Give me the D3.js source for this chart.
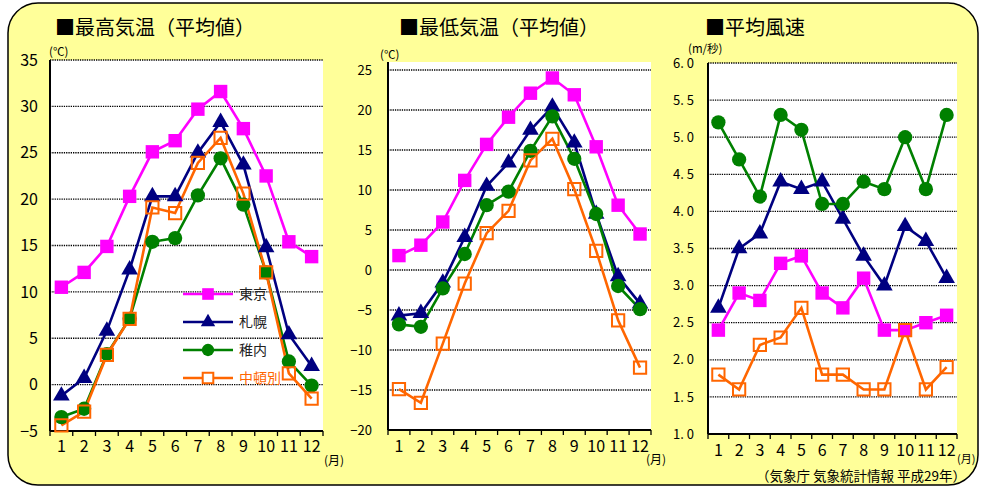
<!DOCTYPE html>
<html>
<head>
<meta charset="utf-8">
<script src="https://cdn.jsdelivr.net/npm/d3@7"></script>
<style>
  body { margin: 0; background: #fff; }
  svg { display: block; font-family: "Noto Sans CJK JP", sans-serif; }
</style>
</head>
<body>
<svg id="chart" width="983" height="486"></svg>
<script>
// months on the x axis
const months = [1, 2, 3, 4, 5, 6, 7, 8, 9, 10, 11, 12];
const stations = ['東京', '札幌', '稚内', '中頓別'];

// 最高気温 (℃)
const maxTokyo    = [10.5, 12.1, 14.9, 20.3, 25.1, 26.3, 29.7, 31.6, 27.6, 22.5, 15.4, 13.8];
const maxSapporo  = [-1.2, 0.7, 5.8, 12.4, 20.3, 20.3, 25.0, 28.3, 23.7, 14.8, 5.4, 2.0];
const maxWakkanai = [-3.5, -2.6, 3.3, 7.1, 15.4, 15.8, 20.4, 24.4, 19.4, 12.1, 2.5, -0.1];
const maxNakatonbetsu = [-4.4, -2.9, 3.2, 7.1, 19.1, 18.5, 23.9, 26.6, 20.6, 12.1, 1.2, -1.5];

// 最低気温 (℃)
const minTokyo    = [1.8, 3.1, 6.0, 11.2, 15.7, 19.1, 22.1, 24.0, 21.9, 15.4, 8.1, 4.5];
const minSapporo  = [-5.7, -5.4, -1.6, 4.1, 10.5, 13.4, 17.5, 20.4, 15.9, 7.0, -0.8, -4.2];
const minWakkanai = [-6.8, -7.1, -2.3, 2.0, 8.1, 9.8, 14.9, 19.2, 13.9, 7.0, -2.0, -4.9];
const minNakatonbetsu = [-14.9, -16.6, -9.2, -1.7, 4.6, 7.4, 13.7, 16.4, 10.1, 2.4, -6.3, -12.2];

// 平均風速 (m/秒)
const windTokyo    = [2.4, 2.9, 2.8, 3.3, 3.4, 2.9, 2.7, 3.1, 2.4, 2.4, 2.5, 2.6];
const windSapporo  = [2.7, 3.5, 3.7, 4.4, 4.3, 4.4, 3.9, 3.4, 3.0, 3.8, 3.6, 3.1];
const windWakkanai = [5.2, 4.7, 4.2, 5.3, 5.1, 4.1, 4.1, 4.4, 4.3, 5.0, 4.3, 5.3];
const windNakatonbetsu = [1.8, 1.6, 2.2, 2.3, 2.7, 1.8, 1.8, 1.6, 1.6, 2.4, 1.6, 1.9];

// y axis ticks
const maxTicks  = [-5, 0, 5, 10, 15, 20, 25, 30, 35];
const minTicks  = [-20, -15, -10, -5, 0, 5, 10, 15, 20, 25];
const windTicks = [1.0, 1.5, 2.0, 2.5, 3.0, 3.5, 4.0, 4.5, 5.0, 5.5, 6.0];

const styles = {
  '東京':   {color: '#ff00ff', symbol: d3.symbolSquare, size: 180, fill: true},
  '札幌':   {color: '#000080', symbol: d3.symbolTriangle, size: 120, fill: true},
  '稚内':   {color: '#008000', symbol: d3.symbolCircle, size: 160, fill: true},
  '中頓別': {color: '#ff6600', symbol: d3.symbolSquare, size: 150, fill: false}
};

const svg = d3.select('#chart');

// yellow rounded background
svg.append('rect')
  .attr('x', 8).attr('y', 3)
  .attr('width', 970).attr('height', 482)
  .attr('rx', 30).attr('ry', 30)
  .attr('fill', '#ffff99')
  .attr('stroke', '#000')
  .attr('stroke-width', 1.5);

function drawPanel(cfg) {
  const g = svg.append('g');
  const x = d3.scaleBand().domain(months).range([cfg.left, cfg.right]);
  const y = d3.scaleLinear().domain(cfg.domain).range([cfg.bottom, cfg.top]);

  // title
  g.append('text')
    .attr('x', cfg.titleX).attr('y', 35)
    .attr('font-size', 20)
    .attr('font-weight', 400)
    .attr('fill', '#000')
    .text(cfg.title);

  // unit
  g.append('text')
    .attr('x', cfg.unitX).attr('y', cfg.unitY)
    .attr('font-size', 11.5)
    .attr('fill', '#000')
    .text(cfg.unit);

  // white plot area
  g.append('rect')
    .attr('x', cfg.left).attr('y', cfg.whiteTop)
    .attr('width', cfg.right - cfg.left)
    .attr('height', cfg.bottom - cfg.whiteTop)
    .attr('fill', '#fff');

  // dotted grid
  g.selectAll('.grid')
    .data(cfg.ticks.filter(t => t !== cfg.domain[0]))
    .join('line')
    .attr('x1', cfg.left).attr('x2', cfg.right)
    .attr('y1', d => y(d)).attr('y2', d => y(d))
    .attr('stroke', '#000')
    .attr('stroke-width', 1.3)
    .attr('stroke-dasharray', '1.3,1');

  // y axis
  const yAxis = g.append('g')
    .attr('transform', `translate(${cfg.left},0)`)
    .call(d3.axisLeft(y).tickValues(cfg.ticks).tickSize(0).tickPadding(cfg.tickPad).tickFormat(cfg.fmt));
  yAxis.select('.domain').remove();
  yAxis.selectAll('text')
    .attr('font-size', cfg.yFont)
    .attr('font-family', '"Noto Sans CJK JP", sans-serif')
    .attr('fill', '#000');
  g.append('line')
    .attr('x1', cfg.left).attr('x2', cfg.left)
    .attr('y1', cfg.whiteTop).attr('y2', cfg.bottom)
    .attr('stroke', '#000').attr('stroke-width', 2);

  // x axis
  const xAxis = g.append('g')
    .attr('transform', `translate(0,${cfg.bottom})`)
    .call(d3.axisBottom(x).tickSize(0).tickPadding(cfg.xPad));
  xAxis.select('.domain').remove();
  xAxis.selectAll('text')
    .attr('font-size', 16)
    .attr('font-family', '"Noto Sans CJK JP", sans-serif')
    .attr('fill', '#000');
  g.append('line')
    .attr('x1', cfg.left).attr('x2', cfg.right)
    .attr('y1', cfg.bottom).attr('y2', cfg.bottom)
    .attr('stroke', '#000').attr('stroke-width', 2);
  g.selectAll('.xtick')
    .data(months.concat([13]))
    .join('line')
    .attr('x1', d => d === 13 ? cfg.right : x(d))
    .attr('x2', d => d === 13 ? cfg.right : x(d))
    .attr('y1', cfg.bottom).attr('y2', cfg.bottom + 5)
    .attr('stroke', '#000').attr('stroke-width', 1.3);

  g.append('text')
    .attr('x', cfg.monthX).attr('y', cfg.monthY)
    .attr('font-size', cfg.monthFont || 12)
    .attr('fill', '#000')
    .text('(月)');

  // series
  const line = d3.line()
    .x((d, i) => x(months[i]) + x.bandwidth() / 2)
    .y(d => y(d));

  cfg.series.forEach((vals, si) => {
    const st = styles[stations[si]];
    g.append('path')
      .datum(vals)
      .attr('d', line)
      .attr('fill', 'none')
      .attr('stroke', st.color)
      .attr('stroke-width', 2.6);
  });
  cfg.series.forEach((vals, si) => {
    const st = styles[stations[si]];
    g.selectAll(null)
      .data(vals)
      .join('path')
      .attr('transform', (d, i) => `translate(${x(months[i]) + x.bandwidth() / 2},${y(d)})`)
      .attr('d', d3.symbol().type(st.symbol).size(st.size))
      .attr('fill', st.fill ? st.color : 'none')
      .attr('stroke', st.color)
      .attr('stroke-width', st.fill ? 0 : 2);
  });
  return g;
}

const p1 = drawPanel({
  title: '■最高気温（平均値）', titleX: 55,
  unit: '(℃)', unitX: 49, unitY: 56,
  left: 50, right: 323, top: 60, bottom: 431, whiteTop: 60,
  domain: [-5, 35], ticks: maxTicks, fmt: d3.format('d'),
  tickPad: 12, yFont: 16, xPad: 10,
  monthX: 324, monthY: 465,
  series: [maxTokyo, maxSapporo, maxWakkanai, maxNakatonbetsu]
});

drawPanel({
  title: '■最低気温（平均値）', titleX: 399,
  unit: '(℃)', unitX: 380, unitY: 59,
  left: 388, right: 651, top: 70, bottom: 430, whiteTop: 62,
  domain: [-20, 25], ticks: minTicks, fmt: d3.format('d'),
  tickPad: 16, yFont: 13, xPad: 11,
  monthX: 646, monthY: 464,
  series: [minTokyo, minSapporo, minWakkanai, minNakatonbetsu]
});

drawPanel({
  title: '■平均風速', titleX: 705,
  unit: '(m/秒)', unitX: 688, unitY: 53,
  left: 708, right: 957, top: 63, bottom: 434, whiteTop: 63,
  domain: [1, 6], ticks: windTicks, fmt: d => d.toFixed(1).replace('.', '. '),
  tickPad: 14, yFont: 13, xPad: 11,
  monthX: 957, monthY: 463, monthFont: 11,
  series: [windTokyo, windSapporo, windWakkanai, windNakatonbetsu]
});

// legend in the first panel
const legend = p1.append('g');
stations.forEach((name, i) => {
  const st = styles[name];
  const ly = 294 + i * 28;
  legend.append('line')
    .attr('x1', 183).attr('x2', 233)
    .attr('y1', ly).attr('y2', ly)
    .attr('stroke', st.color).attr('stroke-width', 2.6);
  legend.append('path')
    .attr('transform', `translate(208,${ly})`)
    .attr('d', d3.symbol().type(st.symbol).size(st.size * 0.75))
    .attr('fill', st.fill ? st.color : '#fff')
    .attr('stroke', st.color)
    .attr('stroke-width', st.fill ? 0 : 2);
  legend.append('text')
    .attr('x', 239).attr('y', ly + 5)
    .attr('font-size', 14)
    .attr('fill', name === '中頓別' ? '#ff6600' : '#222')
    .text(name);
});

// source note
svg.append('text')
  .attr('x', 966).attr('y', 481)
  .attr('text-anchor', 'end')
  .attr('font-size', 13.5)
  .attr('fill', '#000')
  .text('（気象庁 気象統計情報 平成29年）');
</script>
</body>
</html>
